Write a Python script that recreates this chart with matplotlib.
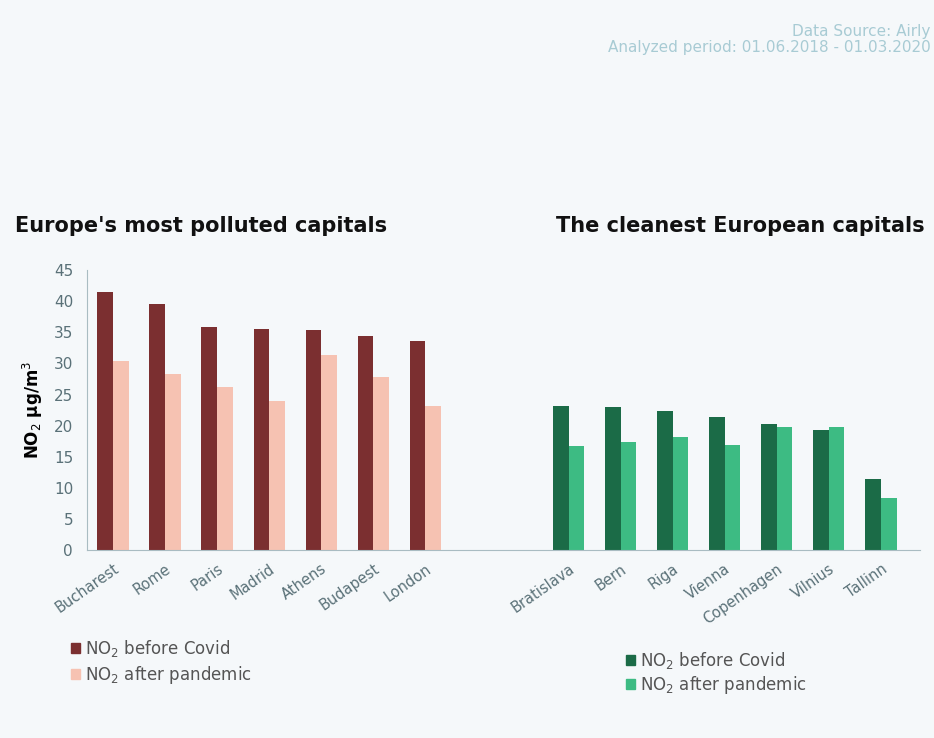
import numpy as np
import matplotlib
matplotlib.use("Agg")
import matplotlib.pyplot as plt
from matplotlib.patches import Patch

polluted = ["Bucharest", "Rome", "Paris", "Madrid", "Athens", "Budapest", "London"]
polluted_before = [41.5, 39.6, 35.9, 35.5, 35.3, 34.4, 33.6]
polluted_after = [30.4, 28.3, 26.2, 24.0, 31.4, 27.8, 23.2]

cleanest = ["Bratislava", "Bern", "Riga", "Vienna", "Copenhagen", "Vilnius", "Tallinn"]
cleanest_before = [23.2, 23.0, 22.4, 21.4, 20.2, 19.3, 11.4]
cleanest_after = [16.8, 17.4, 18.1, 16.9, 19.7, 19.8, 8.4]

yticks = [0, 5, 10, 15, 20, 25, 30, 35, 40, 45]

bg = "#f5f8fa"
tick_col = "#5a7178"

fig = plt.figure(figsize=(9.34, 7.38), dpi=100, facecolor=bg)
ax = fig.add_axes([0.0931, 0.2547, 0.8919, 0.3793], facecolor=bg)

w = 0.3
x1 = np.arange(len(polluted))
x2 = np.arange(len(cleanest)) + 8.75

ax.bar(x1 - w / 2, polluted_before, w, color="#7b2f30")
ax.bar(x1 + w / 2, polluted_after, w, color="#f6c2b2")
ax.bar(x2 - w / 2, cleanest_before, w, color="#1b6b47")
ax.bar(x2 + w / 2, cleanest_after, w, color="#3dbb83")

ax.set_xlim(-0.5, 15.5)
ax.set_ylim(0, 45)
ax.set_yticks(yticks)
ax.set_xticks(np.concatenate([x1, x2]))
ax.set_xticklabels(polluted + cleanest, rotation=35, ha="right",
                   rotation_mode="anchor", fontsize=10.5, color=tick_col)
ax.tick_params(axis="y", length=0, labelsize=11, labelcolor=tick_col, pad=10)
ax.tick_params(axis="x", length=0, pad=8)
for s in ["top", "right"]:
    ax.spines[s].set_visible(False)
ax.spines["left"].set_color("#a9bcc2")
ax.spines["bottom"].set_color("#a9bcc2")
ax.set_ylabel("NO$_2$ µg/m$^3$", fontsize=12, fontweight="bold", labelpad=6)

fig.text(0.016, 0.694, "Europe's most polluted capitals", fontsize=15,
         fontweight="heavy", ha="left", va="center", color="#111111")
fig.text(0.99, 0.694, "The cleanest European capitals", fontsize=15,
         fontweight="heavy", ha="right", va="center", color="#111111")

fig.text(0.996, 0.957, "Data Source: Airly", fontsize=11, ha="right",
         va="center", color="#a8cbd4")
fig.text(0.996, 0.936, "Analyzed period: 01.06.2018 - 01.03.2020", fontsize=11,
         ha="right", va="center", color="#a8cbd4")

leg1 = fig.legend(handles=[Patch(color="#7b2f30", label="NO$_2$ before Covid"),
                           Patch(color="#f6c2b2", label="NO$_2$ after pandemic")],
                  loc="upper left", bbox_to_anchor=(0.06, 0.156), frameon=False,
                  handlelength=0.55, handleheight=0.55, handletextpad=0.3,
                  labelspacing=0.3, fontsize=12, labelcolor="#555555")
leg2 = fig.legend(handles=[Patch(color="#1b6b47", label="NO$_2$ before Covid"),
                           Patch(color="#3dbb83", label="NO$_2$ after pandemic")],
                  loc="upper left", bbox_to_anchor=(0.654, 0.14), frameon=False,
                  handlelength=0.55, handleheight=0.55, handletextpad=0.3,
                  labelspacing=0.2, fontsize=12, labelcolor="#555555")

fig.savefig("out.png", dpi=100, facecolor=bg)
